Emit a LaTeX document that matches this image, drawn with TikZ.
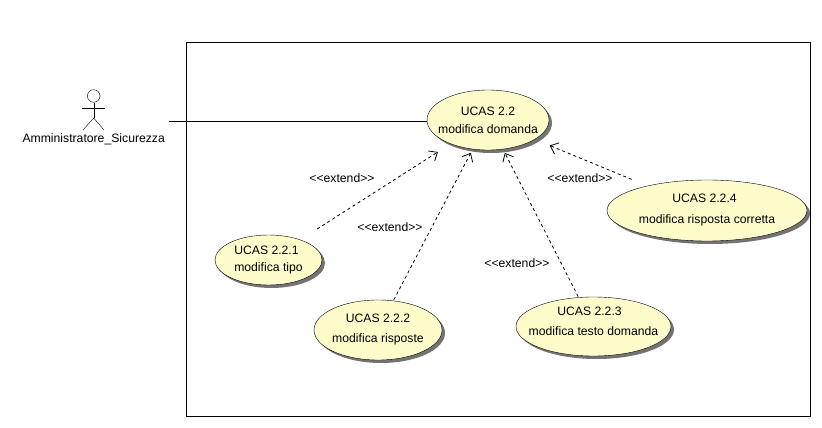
\documentclass[tikz,border=0pt]{standalone}
\usepackage{fontspec}
\setmainfont{Liberation Sans}
\usetikzlibrary{arrows.meta,positioning,shapes.geometric,shadows}

\begin{document}
\begin{tikzpicture}[
  x=1pt,y=-1pt,
  node distance=2pt,
  usecase/.style={
    ellipse,
    draw,
    fill=yellow!20,
    inner sep=-12pt,
    align=center,
    font=\fontsize{12.2}{14}\selectfont,
    drop shadow={shadow xshift=3pt,shadow yshift=-3pt,fill=black!55,opacity=1}
  },
  stereo/.style={font=\fontsize{12.2}{14}\selectfont,inner sep=0pt},
  extend/.style={
    -{Straight Barb[length=7pt,width=12pt]},
    line width=0.8pt,
    dash pattern=on 3pt off 3pt,
    shorten <=1pt,
    shorten >=4pt
  }
]
\useasboundingbox (0,0) rectangle (822,428);

% System boundary
\node[draw,line width=1pt,minimum width=624pt,minimum height=374pt,inner sep=0pt] (system) at (498,229.5) {};

% Actor
\node[circle,draw,minimum size=12.6pt,inner sep=0pt] (head) at (93.7,96) {};
\coordinate (hip) at (93.7,118);
\coordinate (armL) at (82,108);
\coordinate (armR) at (105,108);
\coordinate (footL) at (83,130);
\coordinate (footR) at (104,130);
\coordinate (actorEnd) at (169,121);
\draw (head.south) -- (hip);
\draw (armL) -- (armR);
\draw (footL) -- (hip) -- (footR);
\node[stereo,below=3pt of hip |- footL] (actor) {Amministratore\_Sicurezza};

% Use cases
\node[usecase,minimum width=122pt,minimum height=60pt] (ucas22) at (488,120)
{UCAS 2.2\\[4pt]modifica domanda};

\node[usecase,align=left,minimum width=107pt,minimum height=50pt] (ucas221) at (268.5,260)
{UCAS 2.2.1\\[3pt]modifica tipo};

\node[usecase,minimum width=128pt,minimum height=60pt] (ucas222) at (378,330)
{UCAS 2.2.2\\[6pt]modifica risposte};

\node[usecase,minimum width=155pt,minimum height=59pt,text depth=10pt] (ucas223) at (593.5,326.5)
{\hspace*{-8pt}UCAS 2.2.3\\[6pt]modifica testo domanda};

\node[usecase,minimum width=200pt,minimum height=61pt] (ucas224) at (707,210.5)
{\hspace*{-5pt}UCAS 2.2.4\\[7pt]modifica risposta corretta};

% Association
\draw (actorEnd) -- (ucas22.west |- actorEnd);

% Extend arrows
\draw[extend,shorten <=20pt,shorten >=15pt] (ucas221) -- (ucas22);
\draw[extend] (ucas222) -- (ucas22);
\draw[extend] (ucas223) -- (ucas22);
\draw[extend,shorten <=17pt,shorten >=16pt] (ucas224) -- (ucas22);

% Labels
\node[stereo] (ext221) at (342,178) {{<}{<}extend{>}{>}};
\node[stereo] (ext222) at (390,227) {{<}{<}extend{>}{>}};
\node[stereo] (ext223) at (517,263) {{<}{<}extend{>}{>}};
\node[stereo] (ext224) at (580,178) {{<}{<}extend{>}{>}};

\end{tikzpicture}
\end{document}
